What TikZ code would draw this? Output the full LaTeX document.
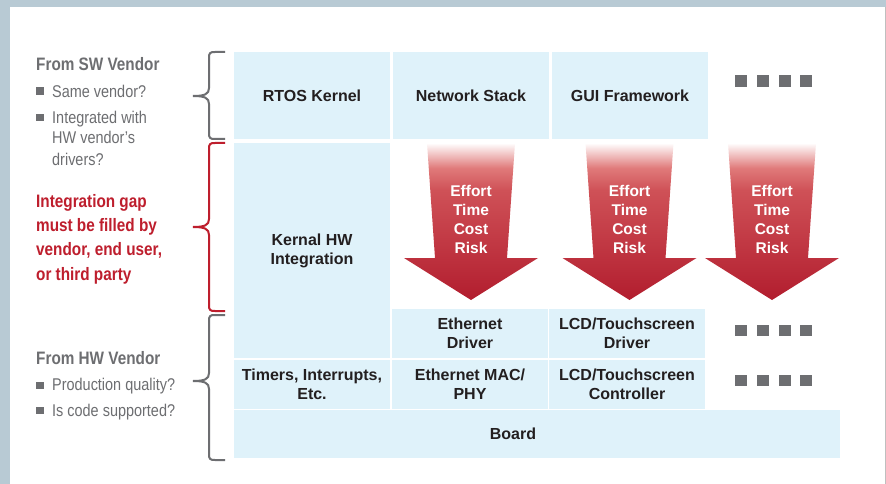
\documentclass[tikz,border=0pt]{standalone}
\usepackage{fontspec}
\setmainfont{Liberation Sans}
\newfontfamily\condfont[FakeStretch=0.85]{Liberation Sans}
\usepackage{xcolor}
\usepackage{tikz}
\definecolor{panelblue}{HTML}{B8CAD4}
\definecolor{boxblue}{HTML}{DFF2FA}
\definecolor{boxtext}{HTML}{231F20}
\definecolor{vendorgray}{HTML}{6D6E71}
\definecolor{gapred}{HTML}{BE1E2D}
\definecolor{effortdark}{HTML}{B21D2E}
\definecolor{effortmid}{HTML}{CF5157}
\definecolor{effortlight}{HTML}{E07A7A}
\pgfdeclareverticalshading{effortfade}{100bp}{color(0bp)=(effortdark); color(25bp)=(effortdark); color(60bp)=(effortmid); color(67bp)=(effortlight); color(75bp)=(white); color(100bp)=(white)}

\begin{document}
\begin{tikzpicture}[x=1pt, y=-1pt,
        layer/.style={fill=boxblue, text=boxtext, inner sep=0pt, align=center,
            font=\fontsize{16}{19}\selectfont\bfseries},
        sidehead/.style={anchor=base west, inner sep=0pt, text=vendorgray,
            font=\condfont\fontsize{18}{21}\selectfont\bfseries},
        side/.style={anchor=base west, inner sep=0pt, text=vendorgray,
            font=\condfont\fontsize{17}{21}\selectfont},
        gapline/.style={anchor=base west, inner sep=0pt, text=gapred,
            font=\condfont\fontsize{18}{24}\selectfont\bfseries},
        effort/.style={inner sep=0pt, align=center, text=white,
            font=\fontsize{15.5}{19}\selectfont\bfseries},
        bracket/.style={line width=2pt}]
    \useasboundingbox (0,0) rectangle (886,484);
    \fill[panelblue] (0,0) rectangle (886,484);
    \fill[white] (10,7) rectangle (884.5,484);
    \draw[black!25, line width=1pt] (885,7) -- (885,484);

    % software layers
    \node[layer, minimum width=156pt, minimum height=87pt] (rtos) at (312,95.5) {RTOS Kernel};
    \node[layer, minimum width=156pt, minimum height=87pt] (netstack) at (471,95.5) {Network Stack};
    \node[layer, minimum width=156pt, minimum height=87pt] (gui) at (630,95.5) {GUI Framework};
    \node[layer, minimum width=156pt, minimum height=215pt] (kernal) at (312,250.5) {Kernal HW\\Integration};

    % hardware layers
    \node[layer, minimum width=156pt, minimum height=49pt] (ethdrv) at (470,333.5) {Ethernet\\Driver};
    \node[layer, minimum width=156pt, minimum height=49pt] (lcddrv) at (627,333.5) {LCD/Touchscreen\\Driver};
    \node[layer, minimum width=156pt, minimum height=49pt] (timers) at (312,384.5) {Timers, Interrupts,\\Etc.};
    \node[layer, minimum width=156pt, minimum height=49pt] (ethmac) at (470,384.5) {Ethernet MAC/\\PHY};
    \node[layer, minimum width=156pt, minimum height=49pt] (lcdctl) at (627,384.5) {LCD/Touchscreen\\Controller};
    \node[layer, minimum width=606pt, minimum height=48pt] (board) at (537,434) {};
    \node[layer, fill=none] (boardtext) at (513,434) {Board};

    % more of the same
    \foreach \dy in {75.5,324.5,374.5}
        \foreach \dx in {735,757,778.5,800}
            \fill[vendorgray] (\dx,\dy) rectangle ++(12,11.5);

    % integration gap arrows
    \foreach \cx/\an in {471/a, 629.5/b, 772/c} {
        \shade[shading=effortfade] (\cx-44,143) -- (\cx+44,143) -- (\cx+36,258)
            -- (\cx+67,258) -- (\cx,300) -- (\cx-67,258) -- (\cx-36,258) -- cycle;
        \node[effort] (effort\an) at (\cx,219.5) {Effort\\Time\\Cost\\Risk};
    }

    % brackets
    \foreach \ya/\yb/\ym/\bc in {52/139/96/vendorgray, 143/311/227/gapred, 315/460/381/vendorgray}
        \draw[bracket, \bc] (225,\ya) -- (215,\ya) .. controls (210,\ya) and (209,\ya+1) .. (209,\ya+6)
            -- (209,\ym-8) .. controls (209,\ym-2) and (205,\ym) .. (193,\ym)
            .. controls (205,\ym) and (209,\ym+2) .. (209,\ym+8)
            -- (209,\yb-6) .. controls (209,\yb-1) and (210,\yb) .. (215,\yb) -- (225,\yb);

    % from SW vendor
    \node[sidehead] (swhead) at (36,71) {From SW Vendor};
    \fill[vendorgray] (36,87.5) rectangle ++(7.5,7.5);
    \node[side] (swq1) at (52,97.3) {Same vendor?};
    \fill[vendorgray] (36,114) rectangle ++(7.5,7.5);
    \node[side] (swq2a) at (52,123.3) {Integrated with};
    \node[side] (swq2b) at (52,143.8) {HW vendor’s};
    \node[side] (swq2c) at (52,165) {drivers?};

    % integration gap
    \foreach \gl [count=\i] in {Integration gap, must be filled by, {vendor, end user,}, or third party}
        \node[gapline] (gap\i) at (36,207+24.4*\i-24.4) {\gl};

    % from HW vendor
    \node[sidehead] (hwhead) at (36,364) {From HW Vendor};
    \fill[vendorgray] (36,381.5) rectangle ++(7.5,7.5);
    \node[side] (hwq1) at (52,390.7) {Production quality?};
    \fill[vendorgray] (36,406.8) rectangle ++(7.5,7.5);
    \node[side] (hwq2) at (52,416.7) {Is code supported?};
\end{tikzpicture}
\end{document}
